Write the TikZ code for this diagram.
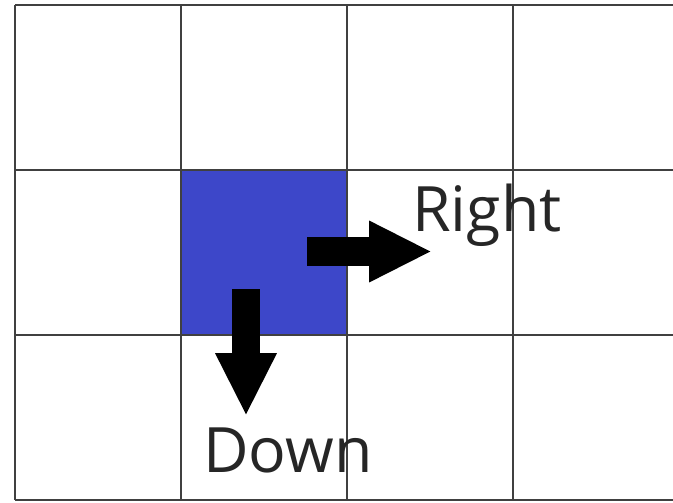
\documentclass[tikz,border=0pt]{standalone}
\usepackage{fontspec}
\setmainfont{Open Sans}
\definecolor{cellblue}{HTML}{3D47C9}
\definecolor{gridgray}{HTML}{404040}
\usetikzlibrary{arrows.meta, positioning}
\tikzset{
	gridline/.style={
			draw=gridgray,
			line width=1.5pt
		},
	current/.style={
			rectangle,
			fill=cellblue,
			draw=none,
			minimum size=4.15cm,
			inner sep=0pt
		},
	move/.style={
			line width=0.72cm,
			line cap=butt,
			-{Triangle[width=1.42cm,length=1.57cm]}
		},
	label/.style={
			inner sep=0pt,
			anchor=base west,
			text=black!85,
			font=\fontsize{44.5}{50}\selectfont
		}
}

\begin{document}
\begin{tikzpicture}[x=0.025cm, y=-0.025cm]
\useasboundingbox (0,0) rectangle (673,502);

\node[current] (cur) at (264,252.5) {};

\foreach \x in {15,181,347,513}
	\draw[gridline] (\x,5) -- (\x,500);
\foreach \y in {5,170,335,500}
	\draw[gridline] (15,\y) -- (673,\y);

\coordinate (rs) at (307,251.5);
\coordinate (re) at (432,251.5);
\coordinate (ds) at (246,289);
\coordinate (de) at (246,416);

\draw[move] (rs) -- (re);
\draw[move] (ds) -- (de);

\node[label] (right) at (412,231) {Right};
\node[label] (down) at (203,472) {Down};
\end{tikzpicture}
\end{document}
